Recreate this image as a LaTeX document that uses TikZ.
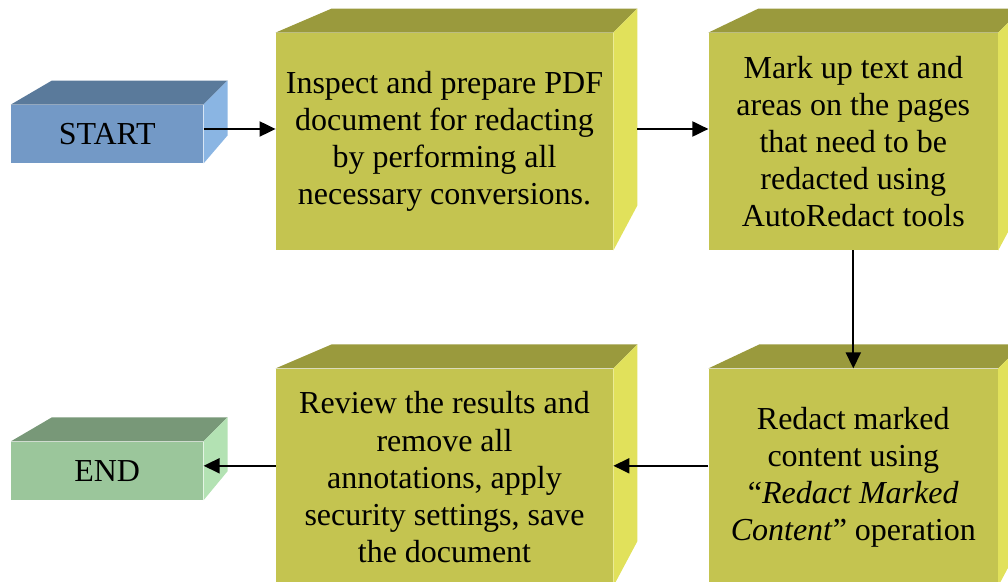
\documentclass[tikz,border=0pt]{standalone}
\usepackage{fontspec}
\setmainfont{Liberation Serif}
\usepackage{tikz}
\usetikzlibrary{positioning,calc,arrows.meta}

\definecolor{bluefront}{HTML}{7399C6}
\definecolor{bluetop}{HTML}{5A7A9B}
\definecolor{blueside}{HTML}{8AB5E3}
\definecolor{olivefront}{HTML}{C4C450}
\definecolor{olivetop}{HTML}{9A9A3D}
\definecolor{oliveside}{HTML}{E1E15B}
\definecolor{greenfront}{HTML}{9BC69B}
\definecolor{greentop}{HTML}{789878}
\definecolor{greenside}{HTML}{B3E2B3}

% top and side faces of a box
\newcommand{\boxfaces}[4]{%
  \fill[#2top] (#1.north west) -- ++(#3,12pt) -- ($(#1.north east)+(12pt,12pt)$) -- (#1.north east) -- cycle;
  \fill[#2side] (#1.north east) -- ++(12pt,12pt) -- ($(#1.south east)+(12pt,#4)$) -- (#1.south east) -- cycle;
}

\begin{document}
\begin{tikzpicture}[x=0.5pt, y=-0.5pt,
  box/.style={rectangle, inner sep=0pt, align=center,
    font=\fontsize{16}{18.6}\selectfont},
  smallbox/.style={box, minimum width=96pt, minimum height=29pt},
  bigbox/.style={box, fill=olivefront, minimum width=168.5pt, minimum height=108.5pt},
  flow/.style={line width=1pt, -{Triangle[length=8pt,width=7.5pt]}}]
  \useasboundingbox (0,0) rectangle (1008,582);
  % Define nodes
  \node[bigbox] (inspect) at (444.5,141.5) {Inspect and prepare PDF\\document for redacting\\by performing all\\necessary conversions.};
  \node[bigbox, right=47.5pt of inspect, minimum width=144.5pt] (markup) {Mark up text and\\areas on the pages\\that need to be\\redacted using\\AutoRedact tools};
  \node[bigbox, below=59pt of markup, minimum width=144.5pt] (redact) {Redact marked\\content using\\``\textit{Redact Marked}\\\textit{Content}'' operation};
  \node[bigbox, left=47.5pt of redact] (review) {Review the results and\\remove all\\annotations, apply\\security settings, save\\the document};
  \node[smallbox, fill=bluefront, left=36pt of inspect, yshift=3.75pt] (start) {START};
  \node[smallbox, fill=greenfront, left=36pt of review, yshift=3.25pt] (end) {END};
  % Faces
  \boxfaces{start}{blue}{20.5pt}{14pt}
  \boxfaces{end}{green}{20.5pt}{14.5pt}
  \boxfaces{inspect}{olive}{28pt}{22.5pt}
  \boxfaces{markup}{olive}{25pt}{22.5pt}
  \boxfaces{redact}{olive}{25.5pt}{22.5pt}
  \boxfaces{review}{olive}{28pt}{22.5pt}
  % Connect nodes
  \draw[flow] ([yshift=2.5pt]start.east) -- ([yshift=6.25pt]inspect.west);
  \draw[flow] ([xshift=12pt,yshift=6.25pt]inspect.east) -- ([yshift=6.25pt]markup.west);
  \draw[flow] (markup.south) -- (redact.north);
  \draw[flow] ([yshift=5.75pt]redact.west) -- ([yshift=5.75pt]review.east);
  \draw[flow] ([yshift=5.75pt]review.west) -- ([yshift=2.5pt]end.east);
\end{tikzpicture}
\end{document}
